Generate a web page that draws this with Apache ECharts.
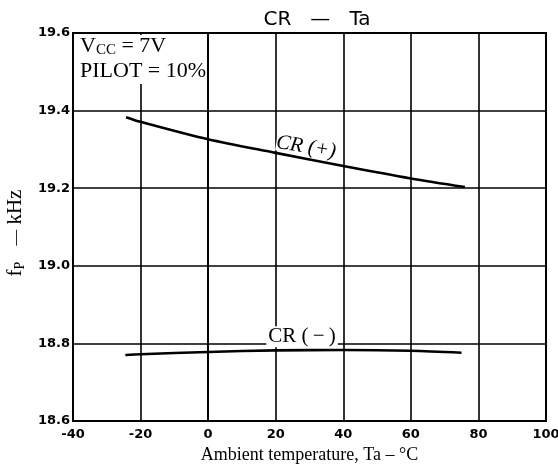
<!DOCTYPE html>
<html><head><meta charset="utf-8">
<script src="https://cdn.jsdelivr.net/npm/echarts@6/dist/echarts.min.js"></script>
<style>html,body{margin:0;padding:0;background:#fff}#c{width:558px;height:469px}</style>
</head><body><div id="c"></div>
<script>
// Data
const crPlusTemp = [-24.3, -20, 0, 20, 40, 60, 76];
const crPlusFreq = [19.383, 19.371, 19.326, 19.291, 19.257, 19.225, 19.203];
const crMinusTemp = [-24.5, -20, 0, 20, 40, 60, 75];
const crMinusFreq = [18.770, 18.772, 18.778, 18.782, 18.783, 18.781, 18.776];
const xTicks = ['-40', '-20', '0', '20', '40', '60', '80', '100'];
const yTicks = ['18.6', '18.8', '19.0', '19.2', '19.4', '19.6'];

const pairs = (xs, ys) => xs.map((x, i) => [x, ys[i]]);
const serif = '"Liberation Serif", "DejaVu Serif", serif';
const sans = '"DejaVu Sans", sans-serif';

const chart = echarts.init(document.getElementById('c'), null, {renderer: 'canvas'});
chart.setOption({
  animation: false,
  backgroundColor: '#fff',
  title: {
    text: 'CR   \u2014   Ta',
    left: 312, top: 5, textAlign: 'center',
    textStyle: {fontFamily: sans, fontSize: 20, fontWeight: 'normal', color: '#000'}
  },
  grid: {left: 73, right: 12, top: 33, bottom: 48, containLabel: false, outerBoundsMode: 'none',
    show: true, borderColor: '#000', borderWidth: 2, backgroundColor: 'transparent'},
  xAxis: {
    type: 'value', min: -40, max: 100, interval: 20,
    axisLine: {show: true, lineStyle: {color: '#000', width: 2}},
    axisTick: {show: false},
    splitLine: {show: true, lineStyle: {color: '#000', width: 1.6}},
    axisLabel: {
      margin: 7, color: '#000', fontFamily: sans, fontWeight: 'bold', fontSize: 13,
      formatter: v => xTicks[Math.round((v + 40) / 20)]
    },
    name: 'Ambient temperature, Ta \u2013 \u00B0C',
    nameLocation: 'middle', nameGap: 25,
    nameTextStyle: {fontFamily: serif, fontSize: 18, color: '#000'}
  },
  yAxis: {
    type: 'value', min: 18.6, max: 19.6, interval: 0.2,
    axisLine: {show: true, lineStyle: {color: '#000', width: 2}},
    axisTick: {show: false},
    splitLine: {show: true, lineStyle: {color: '#000', width: 1.6}},
    axisLabel: {
      margin: 3, color: '#000', fontFamily: sans, fontWeight: 'bold', fontSize: 13,
      formatter: v => yTicks[Math.round((v - 18.6) / 0.2)]
    },
    name: '{a|f}{s|P}{a|   }{d|\u2014}{a| kHz}',
    nameLocation: 'middle', nameGap: 33, nameRotate: 90,
    nameTextStyle: {
      color: '#000',
      padding: [0, 12, 0, 0],
      rich: {
        a: {fontFamily: serif, fontSize: 21, color: '#000'},
        d: {fontFamily: serif, fontSize: 16, color: '#000'},
        s: {fontFamily: serif, fontSize: 14, color: '#000', verticalAlign: 'bottom', padding: [9, 0, 0, 0]}
      }
    }
  },
  series: [
    {
      name: 'CR(+)', type: 'line', smooth: 0.3, showSymbol: false,
      data: pairs(crPlusTemp, crPlusFreq),
      lineStyle: {color: '#000', width: 2.6},
      markPoint: {
        symbol: 'circle', symbolSize: 1,
        itemStyle: {color: 'rgba(0,0,0,0)'},
        data: [{coord: [29, 19.306], value: 1}],
        label: {
          show: true, position: 'inside', formatter: 'CR (+)', rotate: -9,
          fontFamily: serif, fontStyle: 'italic', fontSize: 21, color: '#000',
          backgroundColor: '#fff', padding: [-2, 0, -3, 0]
        }
      }
    },
    {
      name: 'CR(-)', type: 'line', smooth: 0.3, showSymbol: false,
      data: pairs(crMinusTemp, crMinusFreq),
      lineStyle: {color: '#000', width: 2.6},
      markPoint: {
        symbol: 'circle', symbolSize: 1,
        itemStyle: {color: 'rgba(0,0,0,0)'},
        data: [{coord: [27.8, 18.817], value: 1}],
        label: {
          show: true, position: 'inside', formatter: 'CR (\u2009\u2212\u2009)',
          fontFamily: serif, fontSize: 21, color: '#000',
          backgroundColor: '#fff', padding: [0, 2, 0, 2]
        }
      }
    }
  ],
  graphic: [
    {type: 'rect', left: 75, top: 35, shape: {width: 130, height: 49}, style: {fill: '#fff'}, z: 50},
    {
      type: 'text', left: 80, top: 34, z: 51,
      style: {
        text: '{a|V}{s|CC}{a| = 7V}\n{a|PILOT = 10%}',
        fill: '#000',
        rich: {
          a: {fontFamily: serif, fontSize: 22, fill: '#000', lineHeight: 25},
          s: {fontFamily: serif, fontSize: 15, fill: '#000', lineHeight: 25, padding: [9, 0, 0, 0]}
        }
      }
    }
  ]
});
</script>
</body></html>
